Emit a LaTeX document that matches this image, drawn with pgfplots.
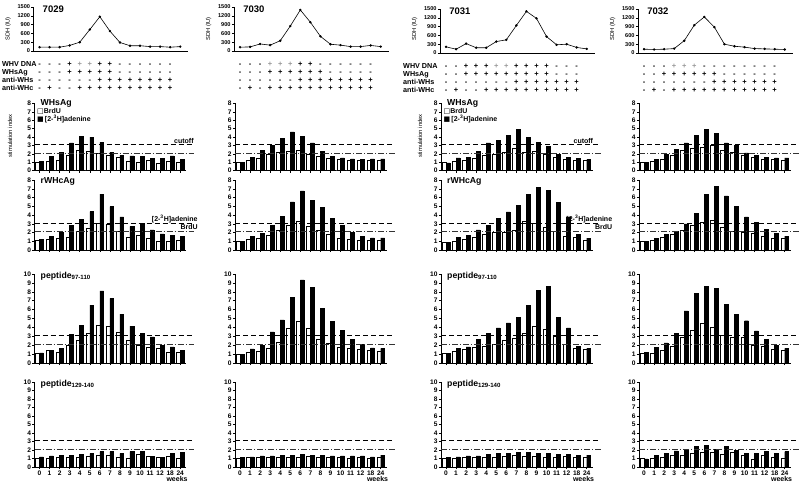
\documentclass[border=0pt]{standalone}
\usepackage{fontspec}
\setmainfont{Liberation Sans}
\newfontfamily\dejavu{DejaVu Sans}
\usepackage{pgfplots}
\usepackage{pgfplotstable}
\pgfplotsset{compat=1.18}

\newcommand\mi{-}
\newcommand\pl{+}
\newcommand\gp{\textcolor{black!40}{+}}

\pgfplotsset{
  common/.style={
    scale only axis, ymin=0, clip=false, anchor=south west,
    axis lines=left, axis line style={-,line width=0.6pt},
    every outer x axis line/.append style={-},
    every outer y axis line/.append style={-},
    tick align=outside, major tick length=2.2pt,
    tick style={black,line width=0.5pt},
    tick label style={font=\bfseries\fontsize{6.6}{6.6}\selectfont, inner sep=1.1pt},
    /pgf/number format/assume math mode=true,
    /pgf/number format/1000 sep={},
  },
  bar axis/.style={common, width=151.75pt, xmin=-0.5, xmax=14.6,
    xtick={0,...,14}, xticklabels={}},
  sdh axis/.style={common, width=154.77pt, height=44pt, xmin=-0.6, xmax=14.8,
    ymax=1500, ytick={0,300,...,1500}, xtick=\empty, scaled y ticks=false,
    yticklabel style={font=\bfseries\fontsize{5.6}{5.6}\selectfont}},
  rowA/.style={at={(#1pt,-170.5pt)}, height=67pt, ymax=8, ytick={0,...,8}},
  rowB/.style={at={(#1pt,-250pt)}, height=70pt, ymax=8, ytick={0,...,8}},
  rowC/.style={at={(#1pt,-363pt)}, height=89pt, ymax=10, ytick={0,...,10}},
  rowD/.style={at={(#1pt,-467pt)}, height=85pt, ymax=10, ytick={0,...,10},
    xticklabels={0,1,2,3,4,5,6,7,8,9,10,11,12,18,24}},
}
\tikzset{
  ttl/.style={font=\bfseries\fontsize{8.7}{8.7}\selectfont, inner sep=0pt, anchor=west},
  lg/.style={font=\bfseries\fontsize{7}{7}\selectfont, inner sep=0.5pt},
  sym/.style={font=\bfseries\fontsize{7.5}{7.5}\selectfont, inner sep=0pt, anchor=base},
  rl/.style={font=\bfseries\fontsize{7.2}{7.2}\selectfont, inner sep=0pt, anchor=base west},
  yl/.style={font=\fontsize{5.8}{5.8}\selectfont, rotate=90, inner sep=0pt},
}

% bar panel: [body] {left x} {row style} {table}
\newcommand\bpanel[4][]{%
\begin{axis}[bar axis,#3={#2}]
\addplot[ybar,bar width=3.8pt,bar shift=-1.9pt,fill=white,draw=black,line width=0.45pt] table[x=x,y=W]{#4};
\addplot[ybar,bar width=3.8pt,bar shift=1.9pt,fill=black,draw=black,line width=0.45pt] table[x=x,y=B]{#4};
\addplot[black,line width=0.5pt,dash pattern=on 5pt off 3pt] coordinates {(-0.5,3.1) (15.4,3.1)};
\addplot[black!80,line width=0.5pt,dash pattern=on 6pt off 2pt on 1pt off 2pt] coordinates {(-0.5,2.1) (15.4,2.1)};
#1
\end{axis}}

% SDH panel: {left x} {bottom y} {title} {coords}
\newcommand\spanel[4]{%
\begin{axis}[sdh axis, at={(#1pt,-#2pt)}]
\addplot[black,line width=0.6pt,mark=*,mark size=0.9pt] coordinates {#4};
\node[anchor=north west,font=\bfseries\fontsize{9.5}{9.5}\selectfont,inner sep=0pt] at (axis cs:0.3,1540) {#3};
\end{axis}}

\newcommand\trow[3]{\foreach \s [count=\k from 0] in {#3}{\node[sym] at ({#1pt+\k*10.05pt},-#2pt) {\s};}}

\newcommand\legA{%
\node[ttl] at (axis cs:0.1,8.05) {WHsAg};
\node[lg,anchor=west] at (axis cs:-0.3,7.0) {{\dejavu □}BrdU};
\node[lg,anchor=west] at (axis cs:-0.3,6.2) {{\dejavu ■}\,[2-\textsuperscript{3}H]adenine};}
\newcommand\weeks{\node[lg,anchor=north east,yshift=-8.5pt] at (axis cs:14.8,0) {weeks};}
\newcommand\cutoff[1]{\node[lg,anchor=south east] at (axis cs:#1,3.1) {cutoff};}
\newcommand\adlab[1]{%
\node[lg,anchor=south east] at (axis cs:#1,3.0) {[2-\textsuperscript{3}H]adenine};
\node[lg,anchor=north east] at (axis cs:#1,3.05) {BrdU};}
\newcommand\ptitle[2]{\node[ttl] at (axis cs:0.1,#1) {#2};}

% ---- data: x = week index (0..12, 18, 24), W = BrdU, B = [2-3H]adenine
\pgfplotstableread{
x W B
0 0.95 1.05
1 1.05 1.7
2 1.25 2.2
3 1.85 3.3
4 2.4 4.1
5 2.3 4.0
6 2.05 3.35
7 1.8 2.2
8 1.55 1.8
9 1.1 1.75
10 1.0 1.65
11 1.2 1.45
12 0.9 1.45
13 1.05 1.75
14 1.0 1.3
}\tAa
\pgfplotstableread{
x W B
0 1.07 1.25
1 1.25 1.55
2 1.33 2.0
3 1.5 2.8
4 2.1 3.5
5 2.5 4.4
6 3.05 6.4
7 2.9 4.95
8 2.1 3.8
9 1.5 2.7
10 1.7 3.05
11 1.4 2.3
12 1.0 1.85
13 1.0 1.7
14 1.07 1.55
}\tAb
\pgfplotstableread{
x W B
0 1.15 1.15
1 1.45 1.45
2 1.25 1.65
3 1.95 3.2
4 2.6 4.2
5 3.4 6.5
6 4.25 8.1
7 4.15 7.25
8 3.5 5.5
9 2.6 4.15
10 2.0 3.3
11 1.8 2.95
12 1.7 2.0
13 1.25 1.8
14 1.25 1.45
}\tAc
\pgfplotstableread{
x W B
0 1.0 1.2
1 1.0 1.3
2 1.1 1.4
3 1.1 1.4
4 1.1 1.45
5 1.3 1.6
6 1.4 1.8
7 1.4 1.8
8 1.15 1.6
9 1.05 1.8
10 1.45 1.8
11 1.3 1.25
12 1.1 1.1
13 1.3 1.6
14 1.05 1.7
}\tAd
\pgfplotstableread{
x W B
0 1.0 0.95
1 1.2 1.6
2 1.5 2.4
3 2.0 3.0
4 2.2 3.8
5 2.3 4.6
6 2.4 4.1
7 2.0 3.3
8 1.7 2.3
9 1.5 1.7
10 1.3 1.5
11 1.2 1.4
12 1.2 1.35
13 1.2 1.4
14 1.25 1.4
}\tBa
\pgfplotstableread{
x W B
0 1.05 0.95
1 1.25 1.55
2 1.4 1.9
3 1.65 2.8
4 2.3 3.85
5 2.8 5.5
6 3.3 6.75
7 2.7 5.65
8 2.3 4.9
9 1.75 3.65
10 1.35 2.8
11 1.25 2.0
12 1.15 1.55
13 1.15 1.4
14 1.15 1.4
}\tBb
\pgfplotstableread{
x W B
0 1.0 1.0
1 1.2 1.6
2 1.35 1.95
3 1.65 3.5
4 2.3 4.85
5 3.9 7.35
6 4.75 9.35
7 3.9 8.5
8 2.7 6.1
9 2.25 4.7
10 1.8 3.65
11 1.7 2.65
12 1.55 2.1
13 1.45 1.7
14 1.35 1.65
}\tBc
\pgfplotstableread{
x W B
0 1.0 1.1
1 1.1 1.2
2 1.1 1.3
3 1.2 1.3
4 1.2 1.4
5 1.1 1.4
6 1.2 1.5
7 1.3 1.4
8 1.1 1.4
9 1.2 1.3
10 1.1 1.3
11 1.0 1.3
12 1.1 1.3
13 1.0 1.2
14 1.1 1.4
}\tBd
\pgfplotstableread{
x W B
0 1.0 0.9
1 1.1 1.5
2 1.25 1.6
3 1.45 2.3
4 1.8 3.3
5 2.0 3.6
6 2.2 4.2
7 2.7 4.95
8 2.2 3.95
9 2.3 3.4
10 1.9 2.85
11 1.6 1.9
12 1.3 1.6
13 1.2 1.45
14 1.2 1.3
}\tCa
\pgfplotstableread{
x W B
0 0.9 0.9
1 1.05 1.45
2 1.25 1.7
3 1.45 2.3
4 1.85 2.85
5 2.05 3.65
6 2.05 4.35
7 2.25 5.1
8 3.3 6.35
9 3.05 7.15
10 2.6 6.8
11 2.1 5.45
12 1.6 3.75
13 1.45 1.75
14 1.1 1.35
}\tCb
\pgfplotstableread{
x W B
0 1.07 1.07
1 1.35 1.65
2 1.55 1.8
3 1.75 2.65
4 1.9 3.35
5 2.1 3.95
6 2.55 4.5
7 2.8 5.15
8 3.35 6.5
9 4.1 8.15
10 3.8 8.6
11 3.05 5.1
12 2.1 3.95
13 1.65 1.9
14 1.55 1.65
}\tCc
\pgfplotstableread{
x W B
0 1.0 1.1
1 1.0 1.2
2 1.1 1.3
3 1.1 1.3
4 1.2 1.5
5 1.2 1.6
6 1.3 1.6
7 1.4 1.7
8 1.3 1.7
9 1.3 1.6
10 1.2 1.6
11 1.2 1.5
12 1.3 1.5
13 1.1 1.4
14 1.1 1.4
}\tCd
\pgfplotstableread{
x W B
0 1.0 1.0
1 1.1 1.3
2 1.4 1.9
3 1.8 2.5
4 2.4 3.3
5 2.7 4.2
6 2.8 4.9
7 3.0 4.4
8 2.4 3.3
9 2.2 3.0
10 1.8 2.1
11 1.6 1.8
12 1.4 1.6
13 1.3 1.5
14 1.2 1.5
}\tDa
\pgfplotstableread{
x W B
0 1.0 1.0
1 1.1 1.3
2 1.5 1.8
3 1.8 2.1
4 2.3 3.0
5 2.8 4.2
6 3.2 6.4
7 3.4 7.3
8 2.6 6.2
9 2.2 5.0
10 2.0 3.8
11 1.9 3.2
12 1.6 2.4
13 1.4 1.9
14 1.3 1.6
}\tDb
\pgfplotstableread{
x W B
0 1.1 1.2
1 1.05 1.75
2 1.45 2.25
3 1.85 3.35
4 2.85 5.85
5 3.7 7.85
6 4.5 8.65
7 4.05 8.35
8 3.1 6.6
9 2.9 5.45
10 2.85 4.75
11 2.05 3.6
12 1.85 2.65
13 1.6 2.0
14 1.45 1.65
}\tDc
\pgfplotstableread{
x W B
0 1.05 0.95
1 1.05 1.35
2 1.1 1.6
3 1.4 1.9
4 1.4 2.0
5 1.6 2.4
6 1.7 2.55
7 1.7 2.1
8 1.45 2.4
9 1.7 2.0
10 1.4 1.6
11 0.95 1.6
12 1.35 1.8
13 1.1 1.6
14 1.05 1.8
}\tDd

\begin{document}
\begin{tikzpicture}
\useasboundingbox (0pt,0pt) rectangle (799pt,-493pt);

% ---- SDH curves
\spanel{33.5}{51}{7029}{(0,130) (1,130) (2,130) (3,190) (4,300) (5,730) (6,1170) (7,680) (8,290) (9,180) (10,180) (11,150) (12,150) (13,130) (14,150)}
\spanel{234}{51}{7030}{(0,130) (1,140) (2,240) (3,200) (4,350) (5,850) (6,1400) (7,980) (8,500) (9,230) (10,200) (11,150) (12,150) (13,190) (14,150)}
\spanel{440}{53}{7031}{(0,210) (1,130) (2,320) (3,180) (4,180) (5,390) (6,450) (7,940) (8,1420) (9,1180) (10,560) (11,280) (12,300) (13,190) (14,140)}
\spanel{638}{53}{7032}{(0,130) (1,120) (2,130) (3,150) (4,420) (5,950) (6,1230) (7,880) (8,300) (9,230) (10,200) (11,150) (12,140) (13,130) (14,120)}

% ---- column 1 (7029)
\bpanel[{\legA\cutoff{15.4}}]{34.5}{rowA}{\tAa}
\bpanel[{\ptitle{7.85}{rWHcAg}\adlab{15.8}}]{34.5}{rowB}{\tAb}
\bpanel[{\ptitle{9.75}{peptide\textsubscript{97-110}}}]{34.5}{rowC}{\tAc}
\bpanel[{\ptitle{9.7}{peptide\textsubscript{129-140}}\weeks}]{34.5}{rowD}{\tAd}

% ---- column 2 (7030)
\bpanel{235}{rowA}{\tBa}
\bpanel{235}{rowB}{\tBb}
\bpanel{235}{rowC}{\tBc}
\bpanel[{\weeks}]{235}{rowD}{\tBd}

% ---- column 3 (7031)
\bpanel[{\legA\cutoff{14.7}}]{441}{rowA}{\tCa}
\bpanel[{\ptitle{7.85}{rWHcAg}\adlab{16.6}}]{441}{rowB}{\tCb}
\bpanel[{\ptitle{9.75}{peptide\textsubscript{97-110}}}]{441}{rowC}{\tCc}
\bpanel[{\ptitle{9.7}{peptide\textsubscript{129-140}}\weeks}]{441}{rowD}{\tCd}

% ---- column 4 (7032)
\bpanel{639}{rowA}{\tDa}
\bpanel{639}{rowB}{\tDb}
\bpanel{639}{rowC}{\tDc}
\bpanel[{\weeks}]{639}{rowD}{\tDd}

% ---- axis titles
\foreach \x in {8,208.5,414.5,612.5} {\node[yl] at (\x pt,-29pt) {SDH (IU)};}
\node[yl] at (10pt,-136pt) {stimulation index};
\node[yl] at (420pt,-136pt) {stimulation index};

% ---- serology table
\node[rl] at (2pt,-66.5pt) {WHV DNA};
\node[rl] at (2pt,-74.5pt) {WHsAg};
\node[rl] at (2pt,-82.5pt) {anti-WHs};
\node[rl] at (2pt,-90.5pt) {anti-WHc};
\trow{39.5}{66.5}{\mi,\mi,\mi,\pl,\gp,\gp,\pl,\pl,\mi,\mi,\mi,\mi,\mi,\mi}
\trow{39.5}{74.5}{\mi,\mi,\mi,\pl,\pl,\pl,\pl,\pl,\mi,\mi,\mi,\mi,\mi,\mi}
\trow{39.5}{82.5}{\mi,\mi,\mi,\mi,\mi,\mi,\pl,\pl,\pl,\pl,\pl,\pl,\pl,\pl}
\trow{39.5}{90.5}{\mi,\pl,\mi,\mi,\pl,\pl,\pl,\pl,\pl,\pl,\pl,\pl,\pl,\pl}

\trow{240}{66.5}{\mi,\mi,\mi,\gp,\gp,\gp,\pl,\pl,\mi,\mi,\mi,\mi,\mi,\mi}
\trow{240}{74.5}{\mi,\mi,\mi,\pl,\pl,\pl,\pl,\pl,\pl,\mi,\mi,\mi,\mi,\mi}
\trow{240}{82.5}{\mi,\mi,\mi,\mi,\mi,\mi,\pl,\pl,\pl,\pl,\pl,\pl,\pl,\pl}
\trow{240}{90.5}{\mi,\pl,\mi,\pl,\pl,\pl,\pl,\pl,\pl,\pl,\pl,\pl,\pl,\pl}

\node[rl] at (403pt,-68.5pt) {WHV DNA};
\node[rl] at (403pt,-76.5pt) {WHsAg};
\node[rl] at (403pt,-84.5pt) {anti-WHs};
\node[rl] at (403pt,-92.5pt) {anti-WHc};
\trow{446}{68.5}{\mi,\mi,\pl,\pl,\pl,\gp,\gp,\pl,\pl,\pl,\pl,\mi,\mi,\mi}
\trow{446}{76.5}{\mi,\mi,\pl,\pl,\pl,\pl,\pl,\pl,\pl,\pl,\pl,\mi,\mi,\mi}
\trow{446}{84.5}{\mi,\mi,\mi,\mi,\mi,\mi,\mi,\pl,\pl,\pl,\pl,\pl,\pl,\pl}
\trow{446}{92.5}{\mi,\pl,\mi,\mi,\pl,\pl,\pl,\pl,\pl,\pl,\pl,\pl,\pl,\pl}

\trow{644}{68.5}{\mi,\mi,\mi,\gp,\gp,\gp,\mi,\mi,\mi,\mi,\mi,\mi,\mi,\mi}
\trow{644}{76.5}{\mi,\mi,\pl,\pl,\pl,\pl,\pl,\pl,\mi,\mi,\mi,\mi,\mi,\mi}
\trow{644}{84.5}{\mi,\mi,\mi,\mi,\mi,\mi,\mi,\pl,\pl,\pl,\pl,\pl,\pl,\pl}
\trow{644}{92.5}{\mi,\pl,\mi,\pl,\pl,\pl,\pl,\pl,\pl,\pl,\pl,\pl,\pl,\pl}
\end{tikzpicture}
\end{document}
